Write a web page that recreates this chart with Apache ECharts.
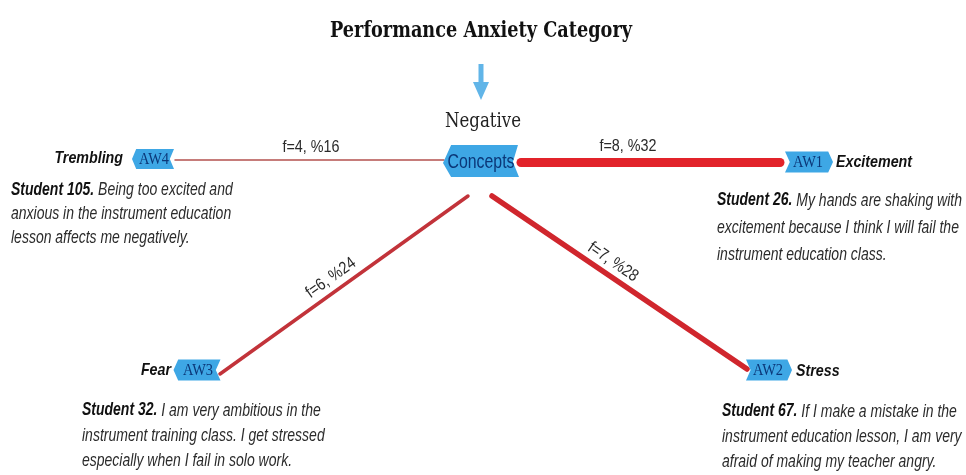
<!DOCTYPE html>
<html><head><meta charset="utf-8">
<script src="https://cdn.jsdelivr.net/npm/echarts@6/dist/echarts.min.js"></script>
<style>html,body{margin:0;padding:0;background:#fff}#c{width:966px;height:475px}</style>
</head><body><div id="c"></div>
<script>
// ---------- data ----------
const chartTitle = 'Performance Anxiety Category';
const categoryName = 'Negative';
const hubName = 'Concepts';
const codes = ['AW1', 'AW2', 'AW3', 'AW4'];
const themes = ['Excitement', 'Stress', 'Fear', 'Trembling'];
const freq = [8, 7, 6, 4];
const pct = [32, 28, 24, 16];
const students = ['Student 26.', 'Student 67.', 'Student 32.', 'Student 105.'];
const quoteLines = [
  ['My hands are shaking with', 'excitement because I think I will fail the', 'instrument education class.'],
  ['If I make a mistake in the', 'instrument education lesson, I am very', 'afraid of making my teacher angry.'],
  ['I am very ambitious in the', 'instrument training class. I get stressed', 'especially when I fail in solo work.'],
  ['Being too excited and', 'anxious in the instrument education', 'lesson affects me negatively.']
];

// ---------- layout (diagram placement, pixel space) ----------
const titlePos = [481, 31];
const arrowPos = [481, 82];
const categoryPos = [483, 122];
const hubPos = [481, 161];
const nodePos = [[809, 162], [769, 370], [197, 370], [153, 159]];
const nodeSize = [[48, 21], [46, 21], [47, 21], [42, 20]];
const nodeDir = ['right', 'right', 'left', 'left'];
const edgeFrom = [[521, 162], [492, 196], [468, 196], [444, 160]];
const edgeTo = [[780, 162], [747, 369], [220, 374], [175, 160]];
const edgeWidth = [9, 5.5, 3.5, 1.5];
const edgeColor = ['#e2232a', '#d0262d', '#c2333a', '#b4524f'];
const edgeLabelPos = [[628, 146], [613, 262], [331, 278], [311, 147]];
const themePos = [[836, 162], [796, 371], [171, 370], [123, 158]];
const themeAlign = ['left', 'left', 'right', 'right'];
const quotePos = [[717, 187], [722, 399], [82, 398], [11, 178]];
const quoteLineH = [27, 25, 25, 24];

// target text widths (the picture is horizontally condensed)
const fitWidth = {title: 302, category: 76, hub: 67, code: 30, theme: 76, edge: 57, quote: 245};

const SANS = '"Liberation Sans", Arial, sans-serif';
const SERIF = '"DejaVu Serif", serif';
const TIMES = '"Liberation Serif", "Times New Roman", serif';
const BOX = '#3ea7e5';
const BOXTXT = '#0b3778';

const mctx = document.createElement('canvas').getContext('2d');
function w(font, text) { mctx.font = font; return mctx.measureText(text).width; }
const S = {
  title: fitWidth.title / w('bold 23px ' + SERIF, chartTitle),
  category: fitWidth.category / w('21px ' + SERIF, categoryName),
  hub: fitWidth.hub / w('20px ' + SANS, hubName),
  code: fitWidth.code / w('17px ' + TIMES, codes[0]),
  theme: fitWidth.theme / w('italic bold 17px ' + SANS, themes[0]),
  edge: fitWidth.edge / w('17px ' + SANS, 'f=' + freq[0] + ', %' + pct[0]),
  quote: fitWidth.quote / (w('italic bold 18px ' + SANS, students[0]) + w('italic 18px ' + SANS, ' ' + quoteLines[0][0]))
};

const leftChevron = 'path://M0,10 L4,0 L40,0 L36,10 L40,20 L4,20 Z';
const rightChevron = 'path://M0,0 L36,0 L40,10 L36,20 L0,20 L4,10 Z';
const hubShape = 'path://M0,18 L8,0 L74,0 L69,17 L75,32 L8,32 Z';

const chart = echarts.init(document.getElementById('c'), null, {renderer: 'canvas'});

const edges = codes.map((c, i) => ({
  coords: [edgeFrom[i], edgeTo[i]],
  lineStyle: {width: edgeWidth[i], color: edgeColor[i], cap: 'round', opacity: 1}
}));

function textSeries(name, data, render) {
  return {type: 'custom', name, coordinateSystem: 'cartesian2d', silent: true, z: 5, clip: false,
    data, renderItem: (params, api) => {
      const p = api.coord([api.value(0), api.value(1)]);
      return render(params.dataIndex, p, api);
    }};
}

chart.setOption({
  animation: false,
  backgroundColor: '#ffffff',
  grid: {left: 0, right: 0, top: 0, bottom: 0},
  xAxis: {type: 'value', min: 0, max: 966, show: false},
  yAxis: {type: 'value', min: 0, max: 475, inverse: true, show: false},
  series: [
    {
      type: 'lines', coordinateSystem: 'cartesian2d', z: 1, silent: true,
      symbol: 'none', data: edges
    },
    {
      type: 'scatter', z: 3, silent: true,
      itemStyle: {color: BOX, opacity: 1},
      data: codes.map((c, i) => ({value: nodePos[i], name: c,
        symbol: nodeDir[i] === 'left' ? leftChevron : rightChevron, symbolSize: nodeSize[i]}))
    },
    {
      type: 'scatter', z: 3, silent: true,
      itemStyle: {color: BOX, opacity: 1},
      data: [{value: hubPos, name: hubName, symbol: hubShape, symbolSize: [76, 32]}]
    },
    {
      type: 'scatter', z: 3, silent: true,
      itemStyle: {color: '#3aa2e2'},
      data: [{value: arrowPos, name: 'arrow',
        symbol: 'path://M5.5,0 L10.5,0 L10.5,18 L16,18 L8,36 L0,18 L5.5,18 Z', symbolSize: [16, 36]}]
    },
    textSeries('title', [titlePos], (i, p) => ({type: 'text', x: p[0], y: p[1], scaleX: S.title,
      style: {text: chartTitle, fontFamily: SERIF, fontSize: 23, fontWeight: 'bold', fill: '#111',
        align: 'center', verticalAlign: 'middle'}})),
    textSeries('category', [categoryPos], (i, p) => ({type: 'text', x: p[0], y: p[1], scaleX: S.category,
      style: {text: categoryName, fontFamily: SERIF, fontSize: 21, fill: '#222',
        align: 'center', verticalAlign: 'middle'}})),
    textSeries('hub', [[hubPos[0], hubPos[1] + 1]], (i, p) => ({type: 'text', x: p[0], y: p[1], scaleX: S.hub,
      style: {text: hubName, fontFamily: SANS, fontSize: 20, fill: BOXTXT,
        align: 'center', verticalAlign: 'middle'}})),
    textSeries('codes', nodePos, (i, p) => ({type: 'text', x: p[0] + (nodeDir[i] === 'left' ? 1 : -1), y: p[1] + 1, scaleX: S.code,
      style: {text: codes[i], fontFamily: TIMES, fontSize: 17, fill: BOXTXT,
        align: 'center', verticalAlign: 'middle'}})),
    textSeries('themes', themePos, (i, p) => ({type: 'text', x: p[0], y: p[1], scaleX: S.theme,
      style: {text: themes[i], fontFamily: SANS, fontSize: 17, fontWeight: 'bold', fontStyle: 'italic',
        fill: '#111', align: themeAlign[i], verticalAlign: 'middle'}})),
    textSeries('edgeLabels', edgeLabelPos, (i, p) => {
      let dx = edgeTo[i][0] - edgeFrom[i][0], dy = edgeTo[i][1] - edgeFrom[i][1];
      if (dx < 0) { dx = -dx; dy = -dy; }
      return {type: 'text', x: p[0], y: p[1], scaleX: S.edge, rotation: -Math.atan2(dy, dx),
        style: {text: 'f=' + freq[i] + ', %' + pct[i], fontFamily: SANS, fontSize: 17, fill: '#2a2a2a',
          align: 'center', verticalAlign: 'middle'}};
    }),
    textSeries('quotes', quotePos, (i, p) => ({type: 'text', x: p[0], y: p[1], scaleX: S.quote,
      style: {
        text: '{b|' + students[i] + '}{i| ' + quoteLines[i][0] + '}\n{i|' + quoteLines[i][1] + '}\n{i|' + quoteLines[i][2] + '}',
        align: 'left', verticalAlign: 'top', lineHeight: quoteLineH[i],
        fontFamily: SANS, fontSize: 18, fill: '#2b2b2b',
        rich: {
          b: {fontFamily: SANS, fontSize: 18, fontWeight: 'bold', fontStyle: 'italic', fill: '#111', lineHeight: quoteLineH[i]},
          i: {fontFamily: SANS, fontSize: 18, fontStyle: 'italic', fill: '#2b2b2b', lineHeight: quoteLineH[i]}
        }
      }}))
  ]
});
</script></body></html>
